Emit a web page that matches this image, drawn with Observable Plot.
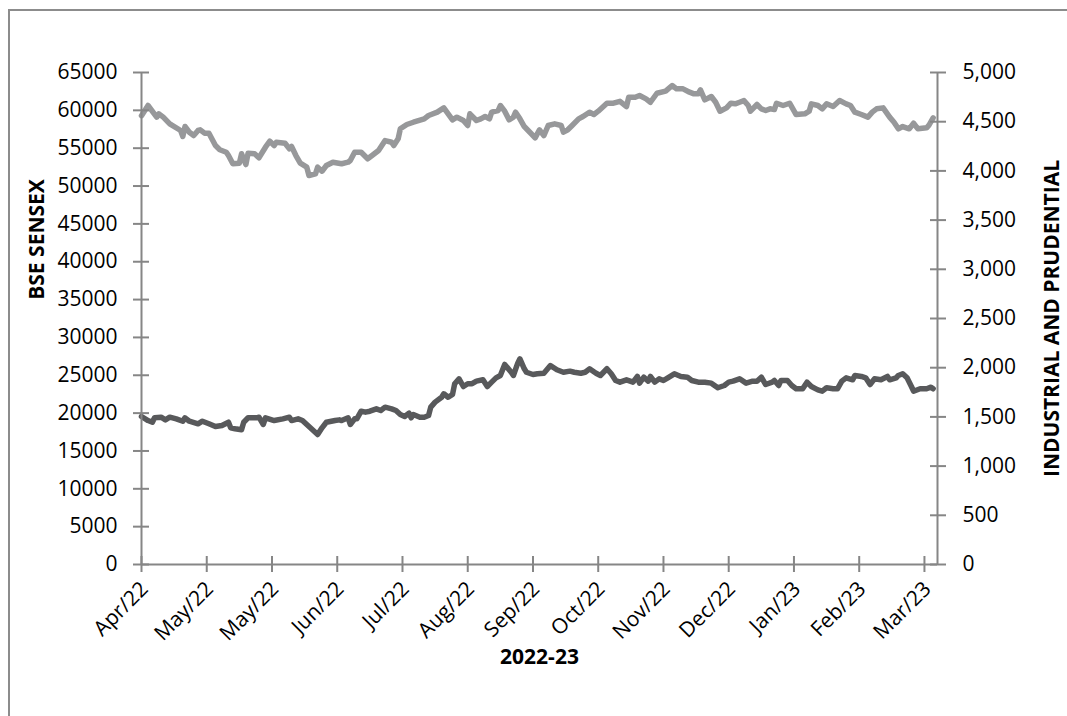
<!DOCTYPE html>
<html><head><meta charset="utf-8">
<script src="https://cdn.jsdelivr.net/npm/d3@7"></script>
<script src="https://cdn.jsdelivr.net/npm/@observablehq/plot@0.6"></script>
<style>
body{margin:0;background:#fff;}
#wrap{position:relative;width:1067px;height:716px;overflow:hidden;background:#fff;}
#frame{position:absolute;left:8px;top:9px;width:1100px;height:800px;border:2px solid #8c8c8c;box-sizing:border-box;}
#chart{position:absolute;left:0;top:0;}
</style></head><body>
<div id="wrap"><div id="frame"></div><div id="chart"></div></div>
<script>
// ---- data ----
const xTitle = "2022-23";
const leftTitle = "BSE SENSEX";
const rightTitle = "INDUSTRIAL AND PRUDENTIAL";
const xDomain = ["2022-04-01", "2023-04-02"];
const xTickDates = ["2022-04-01","2022-05-01","2022-05-31","2022-06-30","2022-07-30","2022-08-29","2022-09-28","2022-10-28","2022-11-27","2022-12-27","2023-01-26","2023-02-25","2023-03-27"];
const xTickLabels = ["Apr/22","May/22","May/22","Jun/22","Jul/22","Aug/22","Sep/22","Oct/22","Nov/22","Dec/22","Jan/23","Feb/23","Mar/23"];
const leftMax = 65000;
const leftTicks = [0,5000,10000,15000,20000,25000,30000,35000,40000,45000,50000,55000,60000,65000];
const rightMax = 5000;
const rightTicks = [0,500,1000,1500,2000,2500,3000,3500,4000,4500,5000];

const sensexDates = ["2022-04-01","2022-04-04","2022-04-08","2022-04-09","2022-04-11","2022-04-14","2022-04-19","2022-04-20","2022-04-21","2022-04-23","2022-04-25","2022-04-27","2022-04-28","2022-04-30",
"2022-05-02","2022-05-05","2022-05-07","2022-05-10","2022-05-11","2022-05-13","2022-05-16","2022-05-17","2022-05-19","2022-05-20","2022-05-23","2022-05-25","2022-05-28","2022-05-30",
"2022-06-01","2022-06-02","2022-06-06","2022-06-08","2022-06-09","2022-06-11","2022-06-13","2022-06-16","2022-06-17","2022-06-20","2022-06-21","2022-06-23","2022-06-25","2022-06-28",
"2022-07-02","2022-07-05","2022-07-06","2022-07-08","2022-07-11","2022-07-14","2022-07-16","2022-07-19","2022-07-22","2022-07-25","2022-07-26","2022-07-28","2022-07-29",
"2022-08-01","2022-08-04","2022-08-09","2022-08-11","2022-08-15","2022-08-18","2022-08-20","2022-08-22","2022-08-24","2022-08-27","2022-08-29","2022-08-30",
"2022-09-02","2022-09-04","2022-09-06","2022-09-08","2022-09-09","2022-09-12","2022-09-13","2022-09-15","2022-09-17","2022-09-19","2022-09-20","2022-09-22","2022-09-24","2022-09-27","2022-09-29",
"2022-10-01","2022-10-03","2022-10-05","2022-10-08","2022-10-11","2022-10-12","2022-10-14","2022-10-16","2022-10-19","2022-10-21","2022-10-24","2022-10-26","2022-10-28",
"2022-11-01","2022-11-04","2022-11-07","2022-11-10","2022-11-11","2022-11-14","2022-11-16","2022-11-19","2022-11-21","2022-11-24","2022-11-28",
"2022-12-01","2022-12-03","2022-12-06","2022-12-09","2022-12-11","2022-12-13","2022-12-14","2022-12-16","2022-12-19","2022-12-21","2022-12-23","2022-12-26","2022-12-28","2022-12-30",
"2023-01-01","2023-01-03","2023-01-05","2023-01-06","2023-01-09","2023-01-11","2023-01-13","2023-01-15","2023-01-17","2023-01-18","2023-01-21","2023-01-24","2023-01-27","2023-01-31",
"2023-02-02","2023-02-03","2023-02-06","2023-02-08","2023-02-10","2023-02-13","2023-02-16","2023-02-19","2023-02-21","2023-02-23","2023-02-26",
"2023-03-01","2023-03-03","2023-03-05","2023-03-08","2023-03-11","2023-03-13","2023-03-15","2023-03-17","2023-03-20","2023-03-22","2023-03-24","2023-03-28","2023-03-29","2023-03-31"];
const sensexValues = [59300,60640,59100,59540,59100,58220,57340,56540,57860,57110,56670,57340,57430,56980,
56980,55350,54790,54470,54030,52940,53020,54260,52840,54340,54260,53730,55130,55920,
55350,55790,55660,54920,55220,54030,53020,52490,51390,51610,52490,51960,52710,53150,
52940,53150,53370,54470,54470,53600,54030,54690,56010,55790,55350,56240,57560,
58130,58430,58880,59320,59760,60330,59540,58750,59100,58660,58000,59540,
58660,58880,59180,58880,59760,59980,60640,59890,58750,59100,59760,58880,57860,56980,56370,
57430,56670,58000,58220,58000,57110,57430,58000,58880,59180,59760,59450,59890,
60940,60940,61200,60500,61730,61730,61960,61520,61070,62260,62530,
63280,62840,62840,62400,62180,62180,62710,61390,61830,61070,59890,60330,60940,60860,
61070,61290,60640,59890,60770,60200,59980,60200,60100,60940,60640,60940,59450,59540,
59890,60860,60640,60200,60860,60500,61290,60860,60640,59760,59450,
59100,59760,60200,60330,59100,58430,57560,57860,57560,58300,57560,57690,58000,59010];

const ipDates = ["2022-04-01","2022-04-04","2022-04-06","2022-04-07","2022-04-10","2022-04-12","2022-04-14","2022-04-17","2022-04-20","2022-04-21","2022-04-23","2022-04-27","2022-04-29",
"2022-05-02","2022-05-05","2022-05-08","2022-05-11","2022-05-12","2022-05-14","2022-05-17","2022-05-18","2022-05-20","2022-05-24","2022-05-25","2022-05-27","2022-05-28",
"2022-06-01","2022-06-05","2022-06-08","2022-06-09","2022-06-12","2022-06-14","2022-06-17","2022-06-21","2022-06-23","2022-06-25","2022-06-29",
"2022-07-01","2022-07-02","2022-07-05","2022-07-06","2022-07-08","2022-07-09","2022-07-11","2022-07-13","2022-07-15","2022-07-18","2022-07-20","2022-07-22","2022-07-25","2022-07-27","2022-07-29","2022-07-31",
"2022-08-02","2022-08-03","2022-08-04","2022-08-07","2022-08-09","2022-08-11","2022-08-12","2022-08-14","2022-08-17","2022-08-18","2022-08-20","2022-08-22","2022-08-23","2022-08-25","2022-08-27","2022-08-29","2022-08-31",
"2022-09-02","2022-09-05","2022-09-07","2022-09-09","2022-09-11","2022-09-13","2022-09-15","2022-09-18","2022-09-19","2022-09-21","2022-09-22","2022-09-24","2022-09-25","2022-09-28","2022-09-30",
"2022-10-03","2022-10-06","2022-10-09","2022-10-12","2022-10-15","2022-10-17","2022-10-20","2022-10-22","2022-10-24","2022-10-27","2022-10-29",
"2022-11-01","2022-11-03","2022-11-05","2022-11-07","2022-11-10","2022-11-13","2022-11-15","2022-11-16","2022-11-18","2022-11-20","2022-11-21","2022-11-23","2022-11-25","2022-11-27","2022-11-29",
"2022-12-02","2022-12-05","2022-12-08","2022-12-10","2022-12-13","2022-12-16","2022-12-19","2022-12-22","2022-12-25","2022-12-27","2022-12-29",
"2023-01-01","2023-01-04","2023-01-07","2023-01-09","2023-01-11","2023-01-13","2023-01-16","2023-01-17","2023-01-19","2023-01-20","2023-01-23","2023-01-25","2023-01-27","2023-01-30",
"2023-02-01","2023-02-03","2023-02-06","2023-02-08","2023-02-10","2023-02-13","2023-02-15","2023-02-17","2023-02-19","2023-02-22","2023-02-23","2023-02-26","2023-02-28",
"2023-03-02","2023-03-04","2023-03-07","2023-03-10","2023-03-11","2023-03-14","2023-03-15","2023-03-17","2023-03-19","2023-03-21","2023-03-22","2023-03-25","2023-03-28","2023-03-30","2023-03-31"];
const ipValues = [1504,1463,1446,1491,1497,1470,1497,1480,1456,1491,1456,1430,1456,
1430,1402,1413,1446,1389,1379,1369,1446,1491,1491,1497,1423,1491,
1463,1480,1497,1463,1480,1463,1402,1321,1389,1446,1463,
1470,1463,1491,1423,1480,1480,1558,1548,1558,1582,1565,1599,1582,1565,1524,1504,
1538,1491,1524,1497,1497,1514,1599,1650,1700,1735,1700,1728,1837,1887,1809,1837,1837,
1863,1877,1809,1853,1897,1921,2033,1954,1921,2046,2090,1989,1954,1931,1938,
1944,2022,1979,1954,1965,1954,1944,1954,1989,1944,1921,
1989,1938,1870,1853,1877,1853,1911,1843,1904,1863,1911,1853,1887,1870,1897,
1938,1911,1904,1870,1853,1853,1843,1796,1819,1853,1863,
1887,1843,1863,1863,1904,1829,1853,1870,1819,1870,1870,1819,1786,1786,
1853,1809,1775,1761,1796,1786,1786,1863,1897,1877,1921,1911,1897,
1829,1887,1877,1911,1877,1897,1921,1938,1897,1809,1761,1786,1786,1802,1786];

// ---- build ----
const parse = d3.utcParse("%Y-%m-%d");
const start = parse(xDomain[0]), end = parse(xDomain[1]);
const ratio = leftMax / rightMax;
const sensex = sensexDates.map((d, i) => ({date: parse(d), value: sensexValues[i]}));
const ip = ipDates.map((d, i) => ({date: parse(d), value: ipValues[i]}));
const xt = xTickDates.map((d, i) => ({date: parse(d), label: xTickLabels[i]}));
const rightScaled = rightTicks.map(v => v * ratio);
const axisColor = "#868686";

const chart = Plot.plot({
  width: 1067, height: 716,
  marginLeft: 141, marginRight: 130, marginTop: 72, marginBottom: 152,
  style: {fontFamily: "'Open Sans', sans-serif", fontSize: "21px", color: "#000", background: "transparent", overflow: "visible"},
  x: {type: "utc", domain: [start, end]},
  y: {domain: [0, leftMax]},
  marks: [
    Plot.line(sensex, {x: "date", y: "value", stroke: "#97989a", strokeWidth: 5.5, strokeLinejoin: "round", strokeLinecap: "round"}),
    Plot.line(ip, {x: "date", y: d => d.value * ratio, stroke: "#58595b", strokeWidth: 5.5, strokeLinejoin: "round", strokeLinecap: "round"}),
    Plot.ruleX([start, end], {stroke: axisColor, strokeWidth: 2}),
    Plot.ruleY([0], {stroke: axisColor, strokeWidth: 2}),
    Plot.axisY(leftTicks, {anchor: "left", tickSize: 16, dx: 8, tickFormat: () => "", stroke: axisColor, strokeWidth: 2, label: null}),
    Plot.axisY(leftTicks, {anchor: "left", tickSize: 0, tickPadding: 24, tickFormat: d => String(d), label: null}),
    Plot.axisY(rightScaled, {anchor: "right", tickSize: 16, dx: -8, tickFormat: () => "", stroke: axisColor, strokeWidth: 2, label: null}),
    Plot.axisY(rightScaled, {anchor: "right", tickSize: 0, tickPadding: 25, tickFormat: d => d3.format(",")(Math.round(d / ratio)), label: null}),
    Plot.axisX(xt.map(d => d.date), {anchor: "bottom", tickSize: 16, dy: -8, tickFormat: () => "", stroke: axisColor, strokeWidth: 2, label: null}),
    Plot.text(xt, {x: "date", text: "label", frameAnchor: "bottom", rotate: -45, textAnchor: "end", lineAnchor: "middle", dx: 3, dy: 21}),
    Plot.text([xTitle], {text: d => d, frameAnchor: "bottom", textAnchor: "middle", dy: 99, fontWeight: "bold"}),
    Plot.text([leftTitle], {text: d => d, frameAnchor: "left", textAnchor: "middle", dx: -104, dy: -79, rotate: -90, fontWeight: "bold"}),
    Plot.text([rightTitle], {text: d => d, frameAnchor: "right", textAnchor: "middle", dx: 115, rotate: -90, fontWeight: "bold"})
  ]
});
document.getElementById("chart").appendChild(chart);
</script>
</body></html>
